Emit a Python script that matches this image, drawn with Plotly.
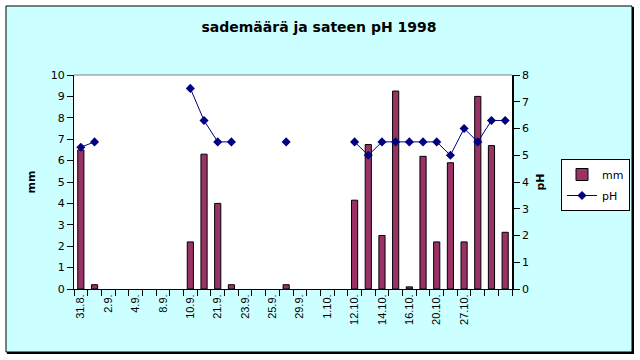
import plotly.graph_objects as go

# ---- data ----
category_index = list(range(32))
tick_positions = [0, 2, 4, 6, 8, 10, 12, 14, 16, 18, 20, 22, 24, 26, 28]
tick_labels = ["31.8.", "2.9.", "4.9.", "8.9.", "10.9.", "21.9.", "23.9.", "25.9.",
               "29.9.", "1.10.", "12.10.", "14.10.", "16.10.", "20.10.", "27.10."]
mm_values = [6.5, 0.2, None, None, None, None, None, None,
             2.2, 6.3, 4.0, 0.2, None, None, None, 0.2,
             None, None, None, None, 4.15, 6.75, 2.5, 9.25,
             0.1, 6.2, 2.2, 5.9, 2.2, 9.0, 6.7, 2.65]
ph_values = [5.3, 5.5, None, None, None, None, None, None,
             7.5, 6.3, 5.5, 5.5, None, None, None, 5.5,
             None, None, None, None, 5.5, 5.0, 5.5, 5.5,
             5.5, 5.5, 5.5, 5.0, 6.0, 5.5, 6.3, 6.3]

# ---- layout constants ----
W, H = 640, 360
L, R, T, B = 74, 128, 75, 71
PW, PH = W - L - R, H - T - B


def px(x):
    return (x - L) / PW


def py(y):
    return (H - B - y) / PH


fig = go.Figure()
fig.add_trace(go.Bar(
    x=category_index, y=mm_values, name="mm", width=0.45,
    marker=dict(color="#993366", line=dict(color="black", width=1)),
    legendgroup="a", yaxis="y",
))
fig.add_trace(go.Scatter(
    x=category_index, y=ph_values, name="pH", mode="lines+markers",
    line=dict(color="#000080", width=1), connectgaps=False,
    marker=dict(symbol="diamond", size=7, color="#000080"),
    legendgroup="b", yaxis="y2",
))

shapes = [
    dict(type="rect", xref="paper", yref="paper", x0=px(7), x1=px(634), y0=py(7), y1=py(354),
         fillcolor="black", line=dict(width=0), layer="below"),
    dict(type="rect", xref="paper", yref="paper", x0=px(6), x1=px(632), y0=py(6), y1=py(352),
         fillcolor="#CCFFFF", line=dict(color="black", width=1), layer="below"),
    dict(type="rect", xref="paper", yref="paper", x0=0, x1=1, y0=0, y1=1,
         fillcolor="white", line=dict(width=0), layer="below"),
    dict(type="line", xref="paper", yref="paper", x0=0, x1=1, y0=1, y1=1,
         line=dict(color="#808080", width=1), layer="below"),
]

fig.update_layout(
    width=W, height=H,
    margin=dict(l=L, r=R, t=T, b=B, autoexpand=False),
    paper_bgcolor="white", plot_bgcolor="white",
    font=dict(family="Liberation Sans, Arial", size=11, color="black"),
    title=dict(text="<b>sademäärä ja sateen pH 1998</b>", x=319 / W, xref="container",
               xanchor="center", y=1 - 27 / H, yref="container", yanchor="middle",
               font=dict(family="DejaVu Sans", size=14, color="black")),
    shapes=shapes,
    showlegend=True,
    legend=dict(x=px(561), y=py(159), xanchor="left", yanchor="top",
                bgcolor="white", bordercolor="black", borderwidth=1,
                traceorder="grouped", tracegroupgap=2, itemwidth=30,
                font=dict(family="DejaVu Sans", size=11)),
    bargap=0.5,
    xaxis=dict(range=[-0.5, 31.5], tickmode="array", tickvals=tick_positions, ticktext=tick_labels,
               tickangle=-90, ticks="", showgrid=False, zeroline=False,
               showline=True, linecolor="black", linewidth=1,
               tickfont=dict(family="Liberation Sans, Arial", size=11),
               minor=dict(tickmode="linear", tick0=-0.5, dtick=1, ticks="outside", ticklen=6,
                          tickcolor="black", tickwidth=1, showgrid=False)),
    yaxis=dict(range=[0, 10], dtick=1, ticks="outside", ticklen=6, tickcolor="black",
               showgrid=False, zeroline=False, showline=True, linecolor="black", linewidth=1,
               tickfont=dict(family="DejaVu Sans", size=11),
               title=dict(text="<b>mm</b>", standoff=12, font=dict(family="DejaVu Sans", size=11))),
    yaxis2=dict(range=[0, 8], dtick=1, overlaying="y", side="right", ticks="outside", ticklen=6,
                tickcolor="black", showgrid=False, zeroline=False, showline=True,
                linecolor="black", linewidth=1.5,
                tickfont=dict(family="DejaVu Sans", size=11),
                title=dict(text="<b>pH</b>", standoff=8, font=dict(family="DejaVu Sans", size=11))),
)

fig.write_html("out.html", config={"displayModeBar": False},
               post_script="document.body.style.margin='0';")
